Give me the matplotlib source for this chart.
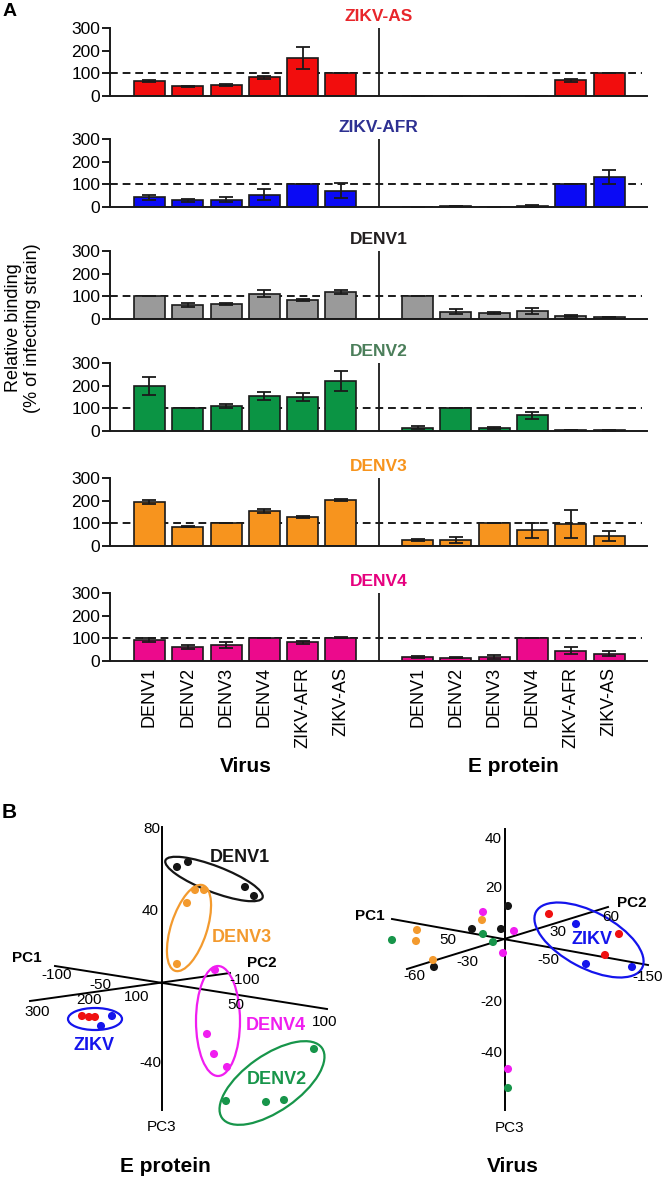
import matplotlib
matplotlib.use('Agg')
import matplotlib.pyplot as plt
from matplotlib.patches import Ellipse
import numpy as np

plt.rcParams['font.family'] = ['Liberation Sans', 'DejaVu Sans']

# ---- panel A data: relative binding (% of infecting strain) ----
strains = ['DENV1', 'DENV2', 'DENV3', 'DENV4', 'ZIKV-AFR', 'ZIKV-AS']
infecting = ['ZIKV-AS', 'ZIKV-AFR', 'DENV1', 'DENV2', 'DENV3', 'DENV4']

virus_mean = [
    [67, 43, 47, 82, 167, 100],
    [43, 29, 32, 54, 100, 72],
    [100, 62, 66, 112, 84, 118],
    [197, 100, 110, 156, 150, 222],
    [193, 86, 100, 155, 128, 203],
    [92, 63, 70, 100, 82, 102],
]
virus_err = [
    [4, 3, 4, 7, 50, 0],
    [11, 8, 12, 24, 0, 33],
    [0, 7, 5, 15, 4, 8],
    [40, 0, 7, 18, 18, 44],
    [9, 4, 0, 10, 4, 4],
    [8, 8, 12, 0, 8, 2],
]
eprot_mean = [
    [0, 2, 0, 2, 70, 100],
    [1, 4, 1, 5, 100, 133],
    [100, 32, 26, 36, 14, 9],
    [15, 100, 15, 70, 3, 3],
    [26, 26, 102, 70, 98, 43],
    [18, 15, 18, 100, 45, 33],
]
eprot_err = [
    [0, 0, 0, 0, 7, 0],
    [0, 1, 0, 3, 0, 30],
    [0, 11, 4, 13, 3, 2],
    [5, 0, 4, 15, 0, 1],
    [5, 12, 0, 33, 63, 22],
    [4, 3, 10, 0, 15, 10],
]
bar_colors = ['#f20d0d', '#0a0af5', '#9a9a9a', '#0b9444', '#f7941e', '#ec0a8c']
title_colors = ['#e8262b', '#2e3192', '#231f20', '#4b7e5a', '#f7941d', '#e6007e']

# ---- panel B data: PCA projections (x, y relative to axis origin) ----
# E protein
ep_denv1 = ([15, 26, 83, 92], [116, 121, 96, 87])
ep_denv3 = ([33, 42, 25, 15], [93, 93, 80, 19])
ep_denv4 = ([53, 45, 52, 65], [13, -51, -71, -84])
ep_denv2 = ([152, 64, 104, 122], [-66, -118, -119, -117])
ep_zikv_as = ([-80, -73, -67], [-33, -34, -34])
ep_zikv_afr = ([-50, -61], [-33, -43])
# Virus
vi_denv1 = ([-33, -4, 3, -71], [10, 10, 33, -28])
vi_denv2 = ([-113, -22, -12, 3], [-1, 5, -3, -149])
vi_denv3 = ([-88, -89, -23, -72], [9, -2, 19, -21])
vi_denv4 = ([-22, 9, -2, 3], [27, 8, -14, -130])
vi_zikv_as = ([44, 114, 100], [25, 5, -16])
vi_zikv_afr = ([71, 81, 127], [15, -25, -28])

c_black = '#151515'
c_orange = '#f39a2e'
c_magenta = '#f01ef0'
c_green = '#17954a'
c_blue = '#1414ec'
c_red = '#f01010'

W, H = 666, 1179
fig = plt.figure(figsize=(W / 100, H / 100), dpi=100)


def box(left, top, right, bottom):
    return [left / W, 1 - bottom / H, (right - left) / W, (bottom - top) / H]


base = [96, 207, 319, 431, 546, 661]
x_virus = np.arange(6)
x_eprot = np.arange(7, 13)
err_kw = dict(elinewidth=1.3, capsize=5, capthick=1.3, ecolor='#1a1a1a')

for i, name in enumerate(infecting):
    ax = fig.add_axes(box(110, base[i] - 68, 647, base[i]))
    ax.axhline(100, xmax=0.99, color='#1a1a1a', lw=1.4, ls=(0, (4, 2.5)), zorder=1)
    ax.bar(x_virus, virus_mean[i], 0.81, yerr=virus_err[i], color=bar_colors[i],
           edgecolor='#1a1a1a', linewidth=1.2, error_kw=err_kw, zorder=2)
    ax.bar(x_eprot, eprot_mean[i], 0.81, yerr=eprot_err[i], color=bar_colors[i],
           edgecolor='#1a1a1a', linewidth=1.2, error_kw=err_kw, zorder=2)
    ax.plot([6, 6], [0, 300], color='#1a1a1a', lw=1.3)
    ax.set_xlim(-1.03, 12.99)
    ax.set_ylim(0, 300)
    ax.set_yticks([0, 100, 200, 300])
    for s in ['top', 'right']:
        ax.spines[s].set_visible(False)
    for s in ['left', 'bottom']:
        ax.spines[s].set_linewidth(1.4)
        ax.spines[s].set_color('#1a1a1a')
    ax.tick_params(axis='y', labelsize=12.5, length=6, width=1.4, pad=1, color='#1a1a1a')
    ax.tick_params(axis='x', length=0, pad=4, labelsize=13)
    ax.set_xticks(np.r_[x_virus, x_eprot])
    if i == len(infecting) - 1:
        ax.set_xticklabels(strains + strains, rotation=90)
    else:
        ax.set_xticklabels([])
    ax.set_title(name, color=title_colors[i], fontsize=12.5, fontweight='bold', pad=5)

fig.text(23 / W, 1 - 328 / H, 'Relative binding\n(% of infecting strain)', rotation=90,
         ha='center', va='center', fontsize=13, linespacing=1.15)
fig.text(246 / W, 1 - 766 / H, 'Virus', ha='center', va='center', fontsize=15, fontweight='bold')
fig.text(513 / W, 1 - 766 / H, 'E protein', ha='center', va='center', fontsize=15, fontweight='bold')
fig.text(10 / W, 1 - 11 / H, 'A', ha='center', va='center', fontsize=14, fontweight='bold')
fig.text(9 / W, 1 - 813 / H, 'B', ha='center', va='center', fontsize=15, fontweight='bold')

# ---- panel B left: E protein ----
ax = fig.add_axes(box(0, 790, 340, 1179))
ax.set_xlim(-162, 178)
ax.set_ylim(-196, 193)
ax.axis('off')
ax.plot([0, 0], [156, -127], color='k', lw=1.4)
ax.plot([-107, 165], [17, -26], color='k', lw=1.4)
ax.plot([-132, 68], [-18, 10], color='k', lw=1.4)
tk = dict(fontsize=11, ha='center', va='center')
ax.text(-2, 154, '80', ha='right', va='center', fontsize=11)
ax.text(-3, 72, '40', ha='right', va='center', fontsize=11)
ax.text(-1, -80, '-40', ha='right', va='center', fontsize=11)
for lab, x, y in [('-100', -105, 8), ('-50', -62, -2), ('50', 74, -22), ('100', 163, -39),
                  ('300', -125, -29), ('200', -73, -17), ('100', -25, -14), ('-100', 83, 3)]:
    ax.text(x, y, lab, **tk)
ax.text(-135, 25, 'PC1', fontsize=11, fontweight='bold', ha='center', va='center')
ax.text(100, 20, 'PC2', fontsize=11, fontweight='bold', ha='center', va='center')
ax.text(0, -144, 'PC3', fontsize=11, ha='center', va='center')
ax.text(3, -183, 'E protein', fontsize=15, fontweight='bold', ha='center', va='center')

for pts, c in [(ep_denv1, c_black), (ep_denv3, c_orange), (ep_denv4, c_magenta),
               (ep_denv2, c_green), (ep_zikv_afr, c_blue), (ep_zikv_as, c_red)]:
    ax.scatter(pts[0], pts[1], s=34, color=c, edgecolors='none', zorder=3)
for (cx, cy, w, h, ang), c in [((52, 104, 104, 26, -21), c_black),
                               ((27, 55, 90, 36, 72), c_orange),
                               ((56, -38, 44, 110, 0), c_magenta),
                               ((110, -100, 122, 56, 35), c_green),
                               ((-67, -36, 54, 22, 0), c_blue)]:
    ax.add_patch(Ellipse((cx, cy), w, h, angle=ang, fill=False, ec=c, lw=1.6, zorder=2))
lb = dict(fontsize=13, fontweight='bold', ha='center', va='center')
ax.text(78, 126, 'DENV1', color=c_black, **lb)
ax.text(80, 46, 'DENV3', color=c_orange, **lb)
ax.text(114, -42, 'DENV4', color=c_magenta, **lb)
ax.text(115, -96, 'DENV2', color=c_green, **lb)
ax.text(-68, -62, 'ZIKV', color=c_blue, **lb)

# ---- panel B right: Virus ----
ax = fig.add_axes(box(340, 790, 666, 1179))
ax.set_xlim(-165, 161)
ax.set_ylim(-240, 149)
ax.axis('off')
ax.plot([0, 0], [110, -171], color='k', lw=1.4)
ax.plot([-113, 143], [20, -26], color='k', lw=1.4)
ax.plot([-98, 103], [-30, 32], color='k', lw=1.4)
for lab, y in [('40', 100), ('20', 51), ('-20', -63), ('-40', -114)]:
    ax.text(-3, y, lab, ha='right', va='center', fontsize=11)
for lab, x, y in [('50', -57, -1), ('-50', 43, -21), ('-150', 143, -38),
                  ('-60', -91, -37), ('-30', -38, -23), ('30', 53, 7), ('60', 106, 22)]:
    ax.text(x, y, lab, **tk)
ax.text(-135, 23, 'PC1', fontsize=11, fontweight='bold', ha='center', va='center')
ax.text(127, 36, 'PC2', fontsize=11, fontweight='bold', ha='center', va='center')
ax.text(5, -189, 'PC3', fontsize=11, ha='center', va='center')
ax.text(8, -227, 'Virus', fontsize=15, fontweight='bold', ha='center', va='center')

for pts, c in [(vi_denv1, c_black), (vi_denv2, c_green), (vi_denv3, c_orange),
               (vi_denv4, c_magenta), (vi_zikv_as, c_red), (vi_zikv_afr, c_blue)]:
    ax.scatter(pts[0], pts[1], s=34, color=c, edgecolors='none', zorder=3)
ax.add_patch(Ellipse((84, -1), 120, 56, angle=-28, fill=False, ec=c_blue, lw=1.6, zorder=2))
ax.text(87, 0, 'ZIKV', color=c_blue, **lb)

fig.savefig('out.png', dpi=100)
